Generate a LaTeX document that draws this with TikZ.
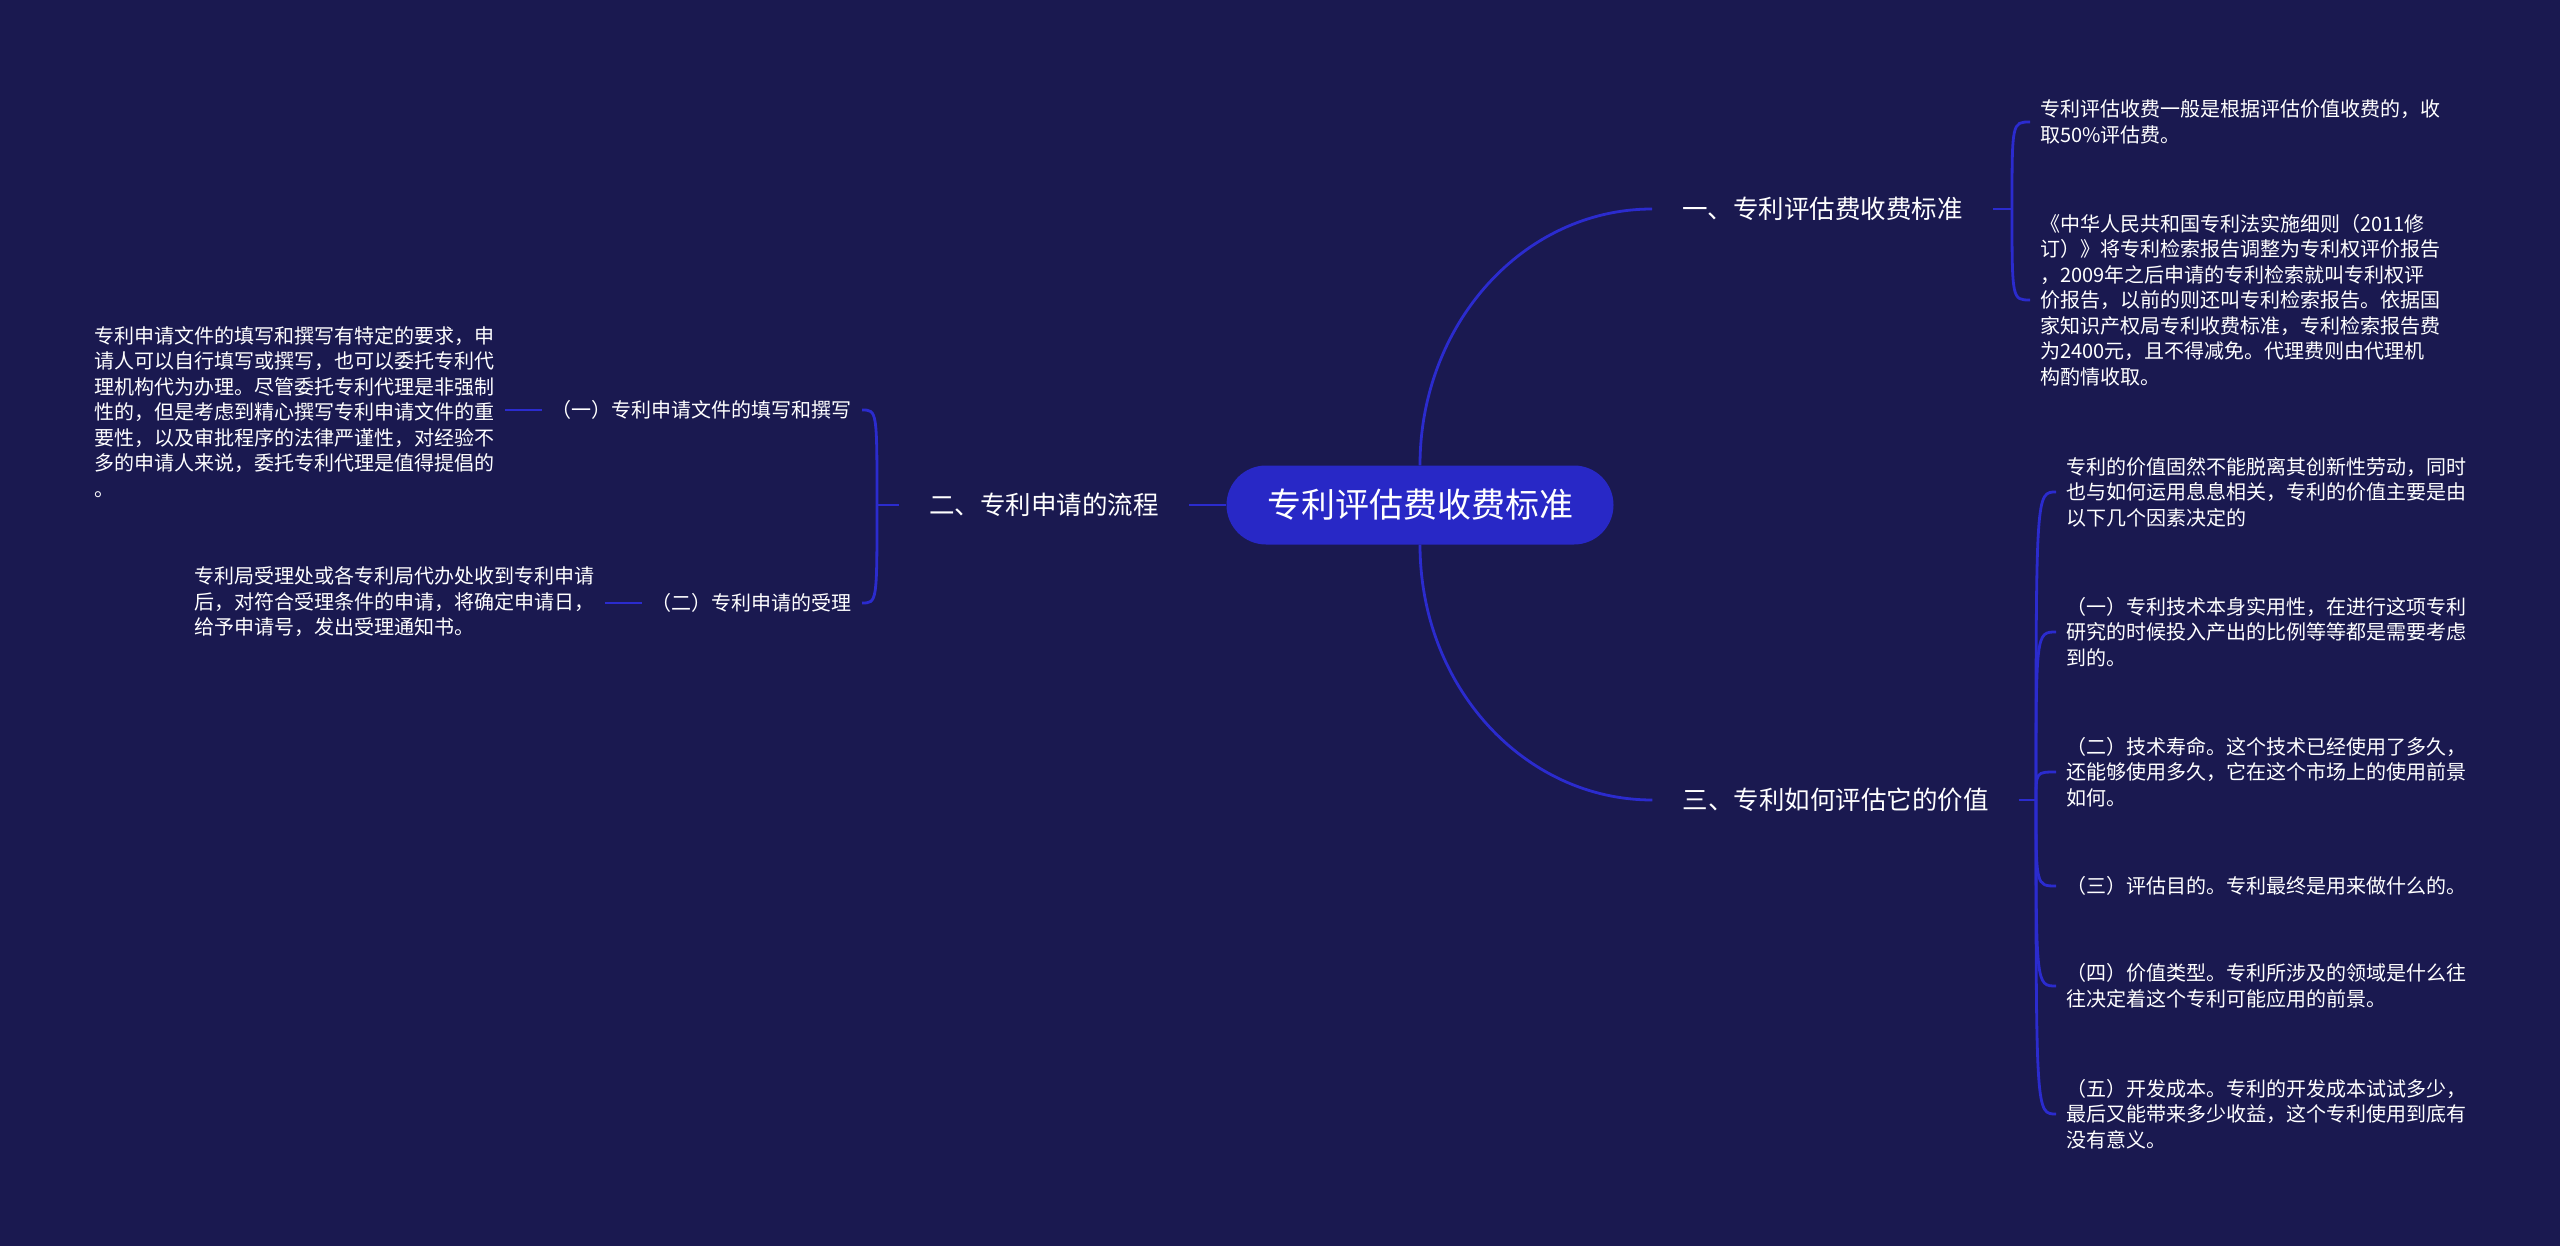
\documentclass[tikz,border=0pt]{standalone}
\usepackage{fontspec}
\setmainfont{Noto Sans CJK SC}
\definecolor{bgc}{RGB}{26,25,80}
\definecolor{pillc}{RGB}{40,40,198}
\definecolor{linec}{RGB}{43,43,206}
\tikzset{
  rootbox/.style={fill=pillc, rounded corners=39.5pt, minimum width=387pt, minimum height=79pt, inner sep=0pt, text=white, font=\fontsize{34}{40}\selectfont},
  branchbox/.style={inner xsep=30pt, inner ysep=5pt, text=white, font=\fontsize{25.5}{30}\selectfont},
  leafbox/.style={inner xsep=10pt, inner ysep=3pt, text=white, align=left, font=\fontsize{20}{25.5}\selectfont},
  conn/.style={draw=linec, line width=2.8pt},
}
\begin{document}
\begin{tikzpicture}[x=1pt,y=-1pt]
\useasboundingbox (0,0) rectangle (2560,1246);
\fill[bgc] (0,0) rectangle (2560,1246);

% nodes
\node[rootbox] (root) at (1420,505) {专利评估费收费标准};
\node[branchbox] (b1) at (1822.5,209) {一、专利评估费收费标准};
\node[branchbox] (b2) at (1044,505) {二、专利申请的流程};
\node[branchbox] (b3) at (1835.5,800) {三、专利如何评估它的价值};

\node[leafbox, anchor=west] (l11) at (2030,122) {专利评估收费一般是根据评估价值收费的，收\\取50\%评估费。};
\node[leafbox, anchor=west] (l12) at (2030,300) {《中华人民共和国专利法实施细则（2011修\\订）》将专利检索报告调整为专利权评价报告\\，2009年之后申请的专利检索就叫专利权评\\价报告，以前的则还叫专利检索报告。依据国\\家知识产权局专利收费标准，专利检索报告费\\为2400元，且不得减免。代理费则由代理机\\构酌情收取。};

\node[leafbox, anchor=west] (l31) at (2056,492) {专利的价值固然不能脱离其创新性劳动，同时\\也与如何运用息息相关，专利的价值主要是由\\以下几个因素决定的};
\node[leafbox, anchor=west] (l32) at (2056,632) {（一）专利技术本身实用性，在进行这项专利\\研究的时候投入产出的比例等等都是需要考虑\\到的。};
\node[leafbox, anchor=west] (l33) at (2056,772) {（二）技术寿命。这个技术已经使用了多久，\\还能够使用多久，它在这个市场上的使用前景\\如何。};
\node[leafbox, anchor=west] (l34) at (2056,886) {（三）评估目的。专利最终是用来做什么的。};
\node[leafbox, anchor=west] (l35) at (2056,986) {（四）价值类型。专利所涉及的领域是什么往\\往决定着这个专利可能应用的前景。};
\node[leafbox, anchor=west] (l36) at (2056,1114) {（五）开发成本。专利的开发成本试试多少，\\最后又能带来多少收益，这个专利使用到底有\\没有意义。};

\node[leafbox, anchor=east] (l21) at (862,410) {（一）专利申请文件的填写和撰写};
\node[leafbox, anchor=east] (l21d) at (505,412) {专利申请文件的填写和撰写有特定的要求，申\\请人可以自行填写或撰写，也可以委托专利代\\理机构代为办理。尽管委托专利代理是非强制\\性的，但是考虑到精心撰写专利申请文件的重\\要性，以及审批程序的法律严谨性，对经验不\\多的申请人来说，委托专利代理是值得提倡的\\。};
\node[leafbox, anchor=east] (l22) at (862,603) {（二）专利申请的受理};
\node[leafbox, anchor=east] (l22d) at (605,602) {专利局受理处或各专利局代办处收到专利申请\\后，对符合受理条件的申请，将确定申请日，\\给予申请号，发出受理通知书。};

% junctions
\coordinate (j1) at (2012,209);
\coordinate (j2) at (877,505);
\coordinate (j3) at (2036,800);

% connectors
\draw[conn] (root.north) .. controls +(0,-142) and +(-128,0) .. (b1.west);
\draw[conn] (root.south) .. controls +(0,142) and +(-128,0) .. (b3.west);
\draw[conn] (root.west) -- (b2.east);

\draw[conn] (b1.east) -- (j1);
\foreach \c in {l11,l12}
  \draw[conn] (j1) .. controls (j1 |- \c.west) .. (\c.west);

\draw[conn] (b3.east) -- (j3);
\foreach \c in {l31,l32,l33,l34,l35,l36}
  \draw[conn] (j3) .. controls (j3 |- \c.west) .. (\c.west);

\draw[conn] (b2.west) -- (j2);
\foreach \c in {l21,l22}
  \draw[conn] (j2) .. controls (j2 |- \c.east) .. (\c.east);

\draw[conn] (l21.west) -- (l21.west -| l21d.east);
\draw[conn] (l22.west) -- (l22.west -| l22d.east);
\end{tikzpicture}
\end{document}
